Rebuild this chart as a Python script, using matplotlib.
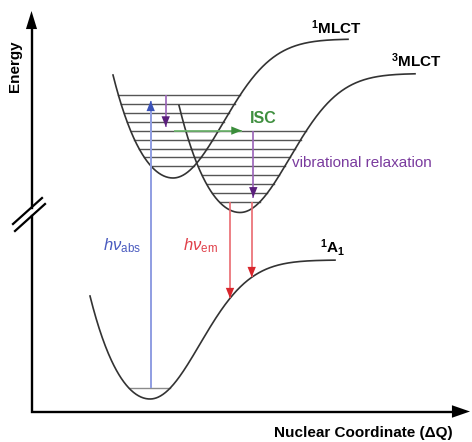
import numpy as np
import matplotlib.pyplot as plt

plt.rcParams.update({
    "font.family": "Liberation Sans",
    "mathtext.fontset": "custom",
    "mathtext.rm": "Liberation Sans",
    "mathtext.it": "Liberation Sans:italic",
    "mathtext.bf": "Liberation Sans:bold",
})

# potential wells (nuclear coordinate, energy), arbitrary units
well_names = ["1A1", "1MLCT", "3MLCT"]
well_q0 = [150, 173, 240]
well_e0 = [43, 264, 229.5]
well_depth = [139, 139, 139]
well_qmin = [90, 113, 179]
well_qmax = [335, 348, 415]
left_a, left_b = 0.024, 1.28e-6   # steep inner wall
right_a = 0.028                   # dissociative side

# vibrational ladder
level_base = 239.8
level_step = 8.95
levels_1mlct = list(range(4, 13))
levels_3mlct = list(range(0, 9))
ground_level = 54

# transitions
abs_q, abs_e = 150.7, 341.3
relax1_q, relax1_e = 165.7, 315.3
isc_q = [174, 241.7]
relax3_q, relax3_e = 253.3, 244.5
em_q = [230, 251.7]


def well_curve(i, q):
    dq = np.asarray(q, float) - well_q0[i]
    d = well_depth[i]
    rise = np.where(dq < 0, left_a * dq**2 + left_b * dq**4,
                    d * (1 - np.exp(-right_a * dq**2 / d)))
    return well_e0[i] + rise


def level_span(i, e):
    dq = np.linspace(0, 120, 2000)
    left = well_curve(i, well_q0[i] - dq)
    right = well_curve(i, well_q0[i] + dq)
    return well_q0[i] - np.interp(e, left, dq), well_q0[i] + np.interp(e, right, dq)


def arrow(ax, p0, p1, line_c, head_c, lw=1.2, hl=0.75, hw=0.3):
    ax.plot([p0[0], p1[0]], [p0[1], p1[1]], color=line_c, lw=lw, solid_capstyle="butt")
    ax.annotate("", xy=p1, xytext=p0,
                arrowprops=dict(arrowstyle=f"-|>,head_length={hl},head_width={hw}",
                                color=head_c, lw=0, shrinkA=0, shrinkB=0,
                                mutation_scale=10))


fig = plt.figure(figsize=(4.72, 4.42), dpi=100)
ax = fig.add_axes([0, 0, 1, 1])
ax.set_xlim(0, 472)
ax.set_ylim(0, 442)
ax.axis("off")

# vibrational levels
for k in levels_1mlct:
    e = level_base + level_step * k
    ql, qr = level_span(1, e)
    ax.plot([ql, qr], [e, e], color="#555555", lw=1.0)
for k in levels_3mlct:
    e = level_base + level_step * k
    ql, qr = level_span(2, e)
    ax.plot([ql, qr], [e, e], color="#555555", lw=1.0)
ql, qr = level_span(0, ground_level)
ax.plot([ql, qr], [ground_level, ground_level], color="#8a8a8a", lw=1.0)

# potential curves
for i in range(3):
    q = np.linspace(well_qmin[i], well_qmax[i], 400)
    ax.plot(q, well_curve(i, q), color="#333333", lw=1.2)

# transitions
isc_e = level_base + level_step * levels_3mlct[-1]
top_e = level_base + level_step * levels_1mlct[-1]
low_e = level_base
arrow(ax, (abs_q, ground_level), (abs_q, abs_e), "#8f9de2", "#3a52b8", lw=1.4)
arrow(ax, (relax1_q, top_e), (relax1_q, relax1_e), "#9a62b8", "#5a1f7c")
arrow(ax, (isc_q[0], isc_e), (isc_q[1], isc_e), "#6db86d", "#3a8d3a")
arrow(ax, (relax3_q, isc_e), (relax3_q, relax3_e), "#9a62b8", "#5a1f7c")
for q in em_q:
    arrow(ax, (q, low_e), (q, float(well_curve(0, q))), "#ea6a70", "#d8262c")

# axes with break
ax.plot([31.5, 31.5, 455], [226, 30.5, 30.5], color="black", lw=1.7,
        solid_joinstyle="miter")
ax.plot([31.5, 31.5], [234.5, 415], color="black", lw=1.7)
ax.annotate("", xy=(470, 30.5), xytext=(450, 30.5),
            arrowprops=dict(arrowstyle="-|>,head_length=1.3,head_width=0.45",
                            color="black", lw=0, shrinkA=0, shrinkB=0, mutation_scale=10))
ax.annotate("", xy=(31.5, 431), xytext=(31.5, 410),
            arrowprops=dict(arrowstyle="-|>,head_length=1.3,head_width=0.4",
                            color="black", lw=0, shrinkA=0, shrinkB=0, mutation_scale=10))
ax.plot([13, 42], [218, 244], color="black", lw=1.6)
ax.plot([15, 45], [211, 238], color="black", lw=1.6)

# labels
ax.text(15, 376, "Energy", rotation=90, ha="center", va="center",
        fontsize=11, fontweight="bold")
ax.text(363.5, 9, "Nuclear Coordinate (ΔQ)", ha="center", va="center",
        fontsize=11, fontweight="bold")
ax.text(336, 414.5, r"$\mathbf{{}^{1}MLCT}$", ha="center", va="center", fontsize=11)
ax.text(416, 381, r"$\mathbf{{}^{3}MLCT}$", ha="center", va="center", fontsize=11)
ax.text(320, 189, r"$\mathbf{{}^{1}A_{1}}$", ha="left", va="baseline", fontsize=11)
ax.text(263.5, 323.5, "ISC", ha="center", va="center", fontsize=11.5,
        fontweight="bold", color="#3f8f3f")
ax.text(292.5, 278.7, "vibrational relaxation", ha="left", va="center",
        fontsize=11, color="#7a3b9e")
ax.text(103, 192, r"$h\nu_{\mathrm{abs}}$", ha="left", va="baseline",
        fontsize=12, color="#4a5bbf")
ax.text(183, 192, r"$h\nu_{\mathrm{em}}$", ha="left", va="baseline",
        fontsize=12, color="#e0404a")

fig.savefig("out.png", dpi=100)
